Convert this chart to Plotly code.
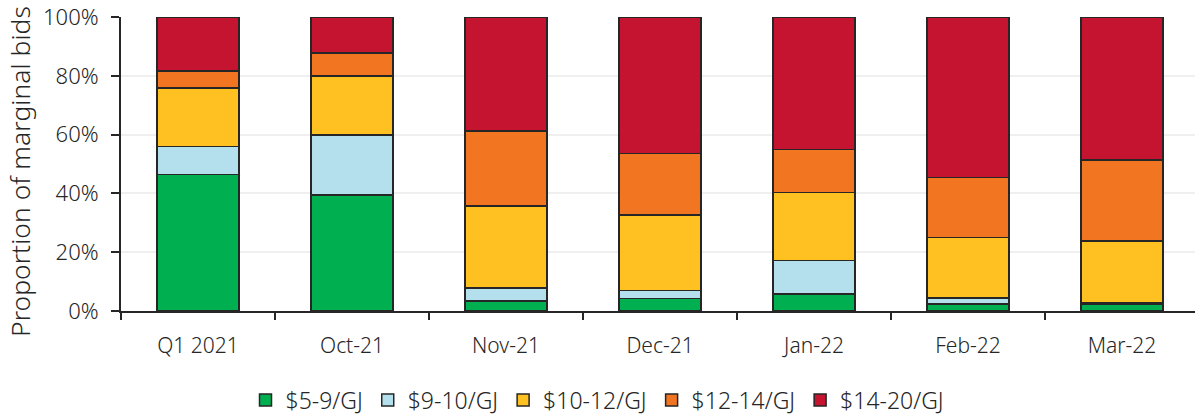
import plotly.graph_objects as go

# Months of marginal bids and share of bids in each price band (%)
categories = ["Q1 2021", "Oct-21", "Nov-21", "Dec-21", "Jan-22", "Feb-22", "Mar-22"]
band_5_9 = [46.5, 39.4, 3.4, 4.2, 5.7, 2.4, 2.3]
band_9_10 = [9.5, 20.5, 4.4, 2.8, 11.4, 2.0, 0.6]
band_10_12 = [19.9, 20.0, 28.0, 25.6, 23.2, 20.6, 20.9]
band_12_14 = [5.8, 7.8, 25.5, 21.0, 14.7, 20.4, 27.5]
band_14_20 = [18.3, 12.3, 38.7, 46.4, 45.0, 54.6, 48.7]

series = [
    ("$5-9/GJ", band_5_9, "#00B050"),
    ("$9-10/GJ", band_9_10, "#B4E0EE"),
    ("$10-12/GJ", band_10_12, "#FFC122"),
    ("$12-14/GJ", band_12_14, "#F27521"),
    ("$14-20/GJ", band_14_20, "#C4142F"),
]

FONT = "Noto Sans"
TEXT = "#262626"

fig = go.Figure()
for name, values, color in series:
    fig.add_trace(go.Bar(
        x=categories, y=values, name=name,
        marker=dict(color=color, line=dict(color="#262626", width=1.5)),
        width=0.53,
    ))

# Vertical y-axis title, placed as an annotation to the left of the tick labels
fig.add_annotation(
    text="Proportion of marginal bids", textangle=-90,
    xref="paper", yref="paper", x=-0.094, y=0.473,
    xanchor="center", yanchor="middle", showarrow=False,
    font=dict(family=FONT, size=26.5, color=TEXT, weight=300),
)

fig.update_layout(
    barmode="stack",
    width=1195, height=415,
    margin=dict(l=121, r=0, t=17, b=104),
    plot_bgcolor="white", paper_bgcolor="white",
    font=dict(family=FONT, size=21, color=TEXT, weight=300),
    showlegend=True,
    legend=dict(
        orientation="h", traceorder="normal",
        xref="container", x=0.5, xanchor="center",
        yref="container", y=0.036, yanchor="middle",
        font=dict(family=FONT, size=23, color=TEXT, weight=300),
        itemwidth=30,
    ),
    xaxis=dict(
        type="category", range=[-0.5, 6.474],
        showline=True, linecolor="#262626", linewidth=2,
        ticks="outside", tickson="boundaries", ticklen=7, tickwidth=2, tickcolor="#262626",
        showgrid=False, ticklabelstandoff=15,
        tickfont=dict(family=FONT, size=21, color=TEXT, weight=300),
    ),
    yaxis=dict(
        range=[0, 100], tickvals=[0, 20, 40, 60, 80, 100],
        ticktext=["0%", "20%", "40%", "60%", "80%", "100%"],
        showline=True, linecolor="#262626", linewidth=2,
        ticks="outside", ticklen=8, tickwidth=2, tickcolor="#262626",
        showgrid=True, gridcolor="#EFEFEF", gridwidth=1.5,
        zeroline=False, ticklabelstandoff=8,
        tickfont=dict(family=FONT, size=22, color=TEXT, weight=300),
    ),
)

fig.write_html("out.html")
